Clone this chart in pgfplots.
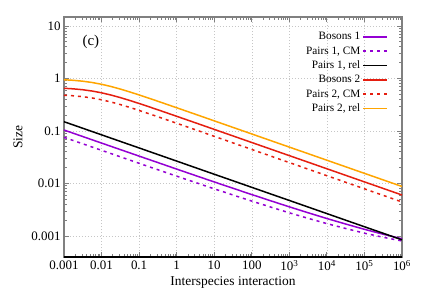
\documentclass[border=0pt]{standalone}
\usepackage{fontspec}
\setmainfont{Liberation Serif}
\usepackage{pgfplots}
\pgfplotsset{compat=1.18}
\definecolor{cpurple}{HTML}{9400D3}
\definecolor{cred}{HTML}{E51E10}
\definecolor{corange}{HTML}{FFA500}
\begin{document}
\begin{tikzpicture}
\useasboundingbox (-64bp,-42bp) rectangle (363bp,257bp);
\begin{axis}[
  at={(0,0)}, anchor=south west,
  scale only axis, width=338bp, height=240bp,
  xmode=log, ymode=log,
  xmin=1e-3, xmax=1e6, ymin=3.98e-4, ymax=14.8,
  xtick={1e-3,1e-2,1e-1,1,10,100,1e3,1e4,1e5,1e6},
  xticklabels={0.001,0.01,0.1,1,10,100,10\textsuperscript{3},10\textsuperscript{4},10\textsuperscript{5},10\textsuperscript{6}},
  ytick={1e-3,1e-2,1e-1,1,10},
  yticklabels={0.001,0.01,0.1,1,10},
  minor tick num=0, minor xtick={}, minor ytick={},
  /pgf/number format/assume math mode=true,
  tick label style={font=\fontsize{13}{15}\selectfont},
  label style={font=\fontsize{13.5}{16}\selectfont},
  xlabel={Interspecies interaction}, ylabel={Size},
  xlabel style={yshift=1bp}, ylabel style={yshift=2bp},
  tick align=inside, major tick length=5bp,
  tick style={gray, line width=0.8bp},
  axis line style={gray, line width=1.2bp},
  grid=major, major grid style={gray!45, line width=0.5bp, dash pattern=on 1bp off 2bp},
  legend style={at={(0.9586,0.945)}, anchor=north east, draw=none, fill=none,
    font=\fontsize{11.3}{12}\selectfont, row sep=1.3bp, inner sep=0pt},
  legend cell align=right,
  legend plot pos=right,
  legend image code/.code={\draw[#1] (0bp,0bp) -- (24bp,0bp);},
  every axis plot/.append style={line width=1.5bp},
]
\addplot[cpurple, no marks] coordinates {
(0.001,0.1043) (0.003162,0.0783) (0.01,0.0588) (0.03162,0.0442) (0.1,0.0332) (0.3162,0.0250)
(1,0.0188) (3.162,0.01417) (10,0.01070) (31.62,0.00810) (100,0.00615) (316.2,0.00469)
(1000,0.00359) (3162,0.00277) (1e4,0.00215) (31623,0.00169) (1e5,0.00134) (316228,0.00108) (1e6,0.000885)};
\addlegendentry{Bosons 1}
\addplot[cpurple, no marks, dash pattern=on 3bp off 4bp] coordinates {
(0.001,0.0757) (0.003162,0.0569) (0.01,0.0428) (0.03162,0.0322) (0.1,0.0242) (0.3162,0.01826)
(1,0.01378) (3.162,0.01043) (10,0.00792) (31.62,0.00603) (100,0.00462) (316.2,0.00356)
(1000,0.00276) (3162,0.00217) (1e4,0.00172) (31623,0.00139) (1e5,0.00113) (316228,0.000945) (1e6,0.000804)};
\addlegendentry{Pairs 1, CM}
\addplot[black, no marks] coordinates {
(0.001,0.1501) (0.003162,0.1126) (0.01,0.0844) (0.03162,0.0633) (0.1,0.0475) (0.3162,0.0356)
(1,0.0267) (3.162,0.0200) (10,0.0150) (31.62,0.01126) (100,0.00844) (316.2,0.00633)
(1000,0.00475) (3162,0.00356) (1e4,0.00267) (31623,0.00200) (1e5,0.00150) (316228,0.001126) (1e6,0.000844)};
\addlegendentry{Pairs 1, rel}
\addplot[cred, no marks] coordinates {
(0.001,0.6500) (0.001778,0.6339) (0.003162,0.6096) (0.005623,0.5757) (0.01,0.5327) (0.01778,0.4835)
(0.03162,0.4317) (0.05623,0.3811) (0.1,0.3338) (0.1778,0.2910) (0.3162,0.2530) (0.5623,0.2195)
(1,0.1903) (3.162,0.1430) (10,0.1072) (31.62,0.0804) (100,0.06029) (316.2,0.04520)
(1000,0.03390) (3162,0.02544) (1e4,0.01907) (31623,0.01430) (1e5,0.01072) (316228,0.00804) (1e6,0.006029)};
\addlegendentry{Bosons 2}
\addplot[cred, no marks, dash pattern=on 3bp off 4bp] coordinates {
(0.001,0.4793) (0.001778,0.4674) (0.003162,0.4495) (0.005623,0.4245) (0.01,0.3928) (0.01778,0.3565)
(0.03162,0.3183) (0.05623,0.2810) (0.1,0.2461) (0.1778,0.2146) (0.3162,0.1865) (0.5623,0.1619)
(1,0.1404) (3.162,0.1054) (10,0.0791) (31.62,0.0593) (100,0.04446) (316.2,0.03333)
(1000,0.02500) (3162,0.01876) (1e4,0.01406) (31623,0.01054) (1e5,0.00791) (316228,0.00593) (1e6,0.004446)};
\addlegendentry{Pairs 2, CM}
\addplot[corange, no marks] coordinates {
(0.001,0.9451) (0.001778,0.9217) (0.003162,0.8864) (0.005623,0.8371) (0.01,0.7746) (0.01778,0.7030)
(0.03162,0.6277) (0.05623,0.5541) (0.1,0.4853) (0.1778,0.4232) (0.3162,0.3678) (0.5623,0.3192)
(1,0.2768) (3.162,0.2079) (10,0.1559) (31.62,0.1169) (100,0.08766) (316.2,0.06573)
(1000,0.04929) (3162,0.03699) (1e4,0.02772) (31623,0.02079) (1e5,0.01559) (316228,0.01169) (1e6,0.008766)};
\addlegendentry{Pairs 2, rel}
\draw[black, line width=1.2bp] (rel axis cs:0,0) -- (rel axis cs:1,0);
\node[font=\fontsize{15}{17}\selectfont, anchor=center] at (rel axis cs:0.0795,0.896) {(c)};
\end{axis}
\end{tikzpicture}
\end{document}
